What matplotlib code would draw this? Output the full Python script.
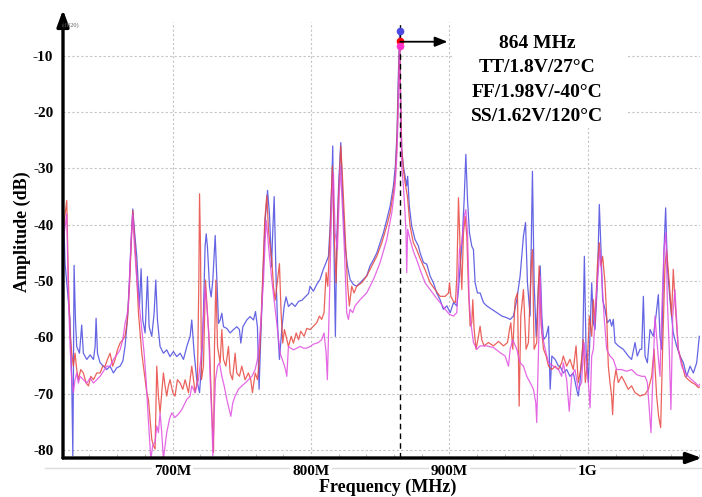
import numpy as np
import matplotlib.pyplot as plt
from matplotlib.lines import Line2D
from matplotlib.patches import Rectangle

plt.rcParams['font.family'] = ['Liberation Serif', 'DejaVu Serif']
plt.rcParams['axes.unicode_minus'] = False

# --- data (MHz, dB) ---
blue_f = [621.5, 622.4, 624.1, 626.0, 627.2, 628.0, 628.4, 628.9, 629.9, 630.8,
          632.8, 634.4, 635.6, 638.1, 640.5, 642.9, 644.1, 644.8, 645.8, 647.7,
          650.1, 652.5, 654.9, 657.3, 659.7, 662.1, 664.1, 665.7, 667.4, 668.9,
          670.3, 671.3, 672.5, 674.2, 676.1, 677.3, 678.5, 680.2, 681.9, 683.1,
          685.0, 686.7, 687.9, 689.1, 691.0, 693.4, 695.8, 698.2, 700.6, 703.0,
          705.5, 707.9, 710.3, 712.7, 713.9, 715.6, 717.5, 719.5, 720.9, 722.3,
          723.5, 724.3, 725.2, 726.7, 727.9, 729.1, 730.8, 732.0, 733.2, 734.4,
          735.6, 736.8, 739.2, 741.6, 744.0, 746.4, 748.3, 749.3, 750.8, 753.6,
          756.0, 758.5, 759.9, 761.3, 762.5, 763.5, 765.2, 766.9, 768.6, 770.0,
          771.5, 772.4, 773.4, 774.8, 776.0, 777.2, 778.9, 780.6, 782.0, 783.7,
          786.1, 788.5, 791.0, 793.4, 795.8, 798.2, 799.3, 801.7, 804.1, 806.5,
          808.9, 810.9, 812.6, 813.8, 815.0, 815.7, 816.4, 817.6, 818.6, 820.0,
          821.5, 822.9, 824.6, 826.3, 828.2, 830.6, 833.0, 835.4, 837.8, 840.2,
          842.6, 845.1, 847.5, 849.9, 852.3, 854.7, 857.1, 859.5, 860.9, 862.1,
          862.9, 864.0, 864.6, 865.5, 866.7, 867.9, 869.1, 869.8, 871.0, 872.7,
          875.1, 877.6, 878.8, 881.2, 883.6, 886.0, 888.4, 890.8, 893.2, 895.6,
          898.1, 900.5, 902.9, 905.3, 906.5, 907.7, 909.1, 910.6, 911.8, 913.0,
          914.4, 916.1, 917.3, 918.5, 920.2, 922.1, 924.5, 926.9, 930.6, 934.2,
          937.8, 941.4, 943.8, 946.2, 948.6, 951.0, 953.4, 954.9, 956.3, 958.2,
          959.9, 961.1, 962.6, 964.3, 965.5, 966.7, 967.9, 969.8, 971.5, 972.7,
          973.9, 976.3, 978.7, 979.8, 982.2, 984.6, 987.0, 989.4, 991.8, 993.0,
          994.2, 996.2, 997.4, 998.6, 1000.3, 1001.5, 1002.7, 1003.9, 1005.1, 1006.8,
          1008.2, 1009.4, 1010.6, 1012.3, 1014.0, 1015.9, 1017.1, 1018.3, 1019.5, 1021.9,
          1025.5, 1029.1, 1031.5, 1034.0, 1035.6, 1037.6, 1038.8, 1040.0, 1041.2, 1042.9,
          1044.8, 1047.2, 1049.1, 1050.8, 1052.0, 1053.2, 1054.9, 1056.1, 1057.3, 1059.2,
          1061.6, 1064.0, 1066.5, 1068.9, 1071.3, 1073.7, 1076.1, 1078.5, 1080.4]
blue_a = [-40.0, -46.9, -51.6, -56.9, -67.5, -81.0, -67.5, -47.2, -56.9, -61.6,
          -62.8, -57.8, -62.8, -63.9, -63.1, -63.9, -61.6, -56.6, -62.8, -64.5,
          -65.1, -65.7, -65.1, -66.3, -65.4, -65.1, -64.2, -61.6, -56.9, -49.8,
          -41.6, -37.2, -41.0, -45.7, -54.5, -47.8, -56.9, -59.2, -49.2, -58.1,
          -59.8, -55.7, -49.8, -56.9, -61.6, -62.8, -62.2, -63.4, -62.5, -63.4,
          -62.8, -63.9, -61.6, -59.8, -56.9, -62.8, -67.5, -69.8, -65.1, -55.7,
          -43.9, -41.6, -43.9, -51.0, -52.8, -49.8, -41.9, -49.8, -57.5, -56.9,
          -55.7, -58.1, -58.4, -59.2, -58.6, -58.1, -58.6, -61.0, -58.1, -56.9,
          -56.3, -56.9, -55.4, -58.1, -69.2, -61.6, -49.8, -39.2, -33.9, -38.1,
          -47.5, -41.0, -35.0, -49.8, -58.6, -63.9, -58.6, -54.5, -52.8, -54.5,
          -53.9, -54.5, -53.6, -53.4, -52.8, -52.2, -50.9, -51.8, -50.6, -49.7,
          -47.9, -46.7, -45.6, -40.2, -32.5, -26.0, -41.4, -59.8, -42.6, -32.5,
          -25.4, -35.5, -43.8, -47.3, -49.7, -50.6, -50.9, -50.3, -49.7, -49.1,
          -47.3, -46.2, -45.0, -43.2, -41.4, -39.1, -36.7, -33.1, -29.6, -23.7,
          -14.8, -5.6, -16.0, -26.6, -29.6, -31.4, -33.1, -31.4, -36.7, -40.2,
          -42.6, -43.8, -45.0, -46.7, -47.0, -49.1, -50.3, -52.1, -53.3, -55.0,
          -54.4, -55.6, -53.8, -54.4, -51.5, -47.3, -43.2, -35.5, -27.5, -35.5,
          -41.4, -43.8, -44.4, -50.3, -52.1, -52.1, -53.8, -54.4, -55.0, -55.6,
          -56.2, -56.5, -56.8, -56.2, -53.3, -49.1, -42.0, -39.6, -50.3, -56.2,
          -30.5, -50.3, -59.8, -50.3, -47.3, -56.2, -60.4, -59.8, -58.0, -69.2,
          -63.3, -63.9, -65.1, -65.1, -66.3, -65.7, -66.9, -66.3, -69.2, -70.4,
          -68.0, -62.1, -45.6, -62.1, -68.0, -59.2, -50.3, -57.4, -58.6, -50.3,
          -36.4, -44.4, -53.3, -55.0, -57.4, -56.8, -58.0, -56.8, -60.9, -61.5,
          -62.1, -63.3, -63.9, -60.9, -63.3, -62.1, -62.1, -52.7, -63.3, -64.5,
          -58.6, -59.8, -56.2, -52.4, -59.8, -62.1, -44.4, -37.0, -47.3, -53.3,
          -59.2, -61.5, -63.3, -64.5, -66.9, -65.1, -66.3, -64.5, -59.8]

red_f = [621.5, 623.6, 624.8, 626.0, 627.2, 628.4, 629.6, 630.8, 632.0, 633.7,
         635.6, 637.6, 639.3, 641.0, 642.9, 645.3, 647.7, 649.6, 651.3, 653.0,
         654.9, 656.8, 658.5, 660.2, 662.1, 664.1, 665.7, 667.4, 668.9, 670.3,
         671.3, 672.5, 673.7, 675.4, 676.6, 677.8, 679.0, 680.2, 681.4, 682.6,
         683.8, 685.0, 686.2, 687.4, 688.6, 689.8, 691.0, 692.2, 693.4, 694.6,
         695.8, 697.0, 698.2, 700.2, 701.8, 703.5, 705.5, 707.4, 709.1, 711.5,
         713.9, 716.3, 718.0, 719.0, 719.5, 720.2, 720.9, 722.3, 723.8, 725.2,
         726.7, 728.4, 729.6, 730.3, 731.3, 732.5, 734.4, 735.6, 736.8, 738.5,
         740.4, 741.6, 743.3, 745.2, 746.4, 748.3, 750.0, 752.4, 754.8, 756.5,
         757.7, 759.7, 761.3, 762.5, 763.7, 765.2, 766.6, 768.1, 769.3, 770.5,
         771.7, 772.9, 774.1, 775.8, 777.2, 778.4, 779.6, 780.8, 782.0, 783.7,
         785.7, 787.3, 789.3, 791.0, 792.6, 795.0, 797.0, 799.4, 801.7, 804.1,
         806.1, 807.7, 809.4, 810.9, 812.1, 813.8, 815.4, 816.7, 818.1, 819.8,
         821.5, 822.9, 824.6, 826.3, 827.7, 829.4, 831.1, 833.0, 836.6, 840.2,
         843.9, 847.5, 851.1, 854.7, 857.1, 859.5, 860.9, 862.1, 862.9, 864.0,
         864.6, 865.5, 866.7, 867.9, 869.6, 871.5, 873.9, 876.3, 878.8, 882.4,
         886.0, 889.6, 893.2, 896.9, 899.3, 900.0, 901.0, 902.9, 904.3, 905.3,
         906.5, 907.7, 908.9, 910.1, 911.3, 912.5, 913.7, 914.9, 916.1, 916.8,
         917.8, 919.2, 920.9, 922.1, 923.3, 925.0, 928.1, 931.8, 935.4, 939.0,
         941.9, 943.3, 944.3, 945.7, 947.4, 949.1, 950.3, 951.5, 953.4, 955.3,
         957.0, 959.0, 959.9, 961.1, 963.0, 964.7, 966.2, 967.9, 969.8, 971.5,
         973.9, 976.3, 978.7, 981.0, 982.2, 984.6, 987.0, 989.4, 991.4, 993.0,
         994.7, 996.6, 998.1, 999.5, 1001.0, 1002.7, 1003.9, 1005.1, 1006.8, 1008.2,
         1009.4, 1010.6, 1012.3, 1013.5, 1014.7, 1015.9, 1017.1, 1017.8, 1018.8, 1020.2,
         1021.9, 1024.3, 1026.7, 1029.1, 1031.5, 1034.0, 1037.6, 1041.2, 1043.6, 1046.0,
         1047.7, 1049.6, 1051.0, 1052.5, 1053.9, 1055.6, 1056.8, 1058.7, 1060.4, 1061.6,
         1062.8, 1065.2, 1067.7, 1070.1, 1072.5, 1074.9, 1077.3, 1079.7, 1082.1]
red_a = [-40.0, -35.7, -49.8, -59.2, -62.8, -65.1, -62.8, -65.7, -67.5, -65.7,
         -66.3, -68.1, -68.6, -66.9, -67.5, -66.3, -66.3, -65.1, -65.1, -63.9,
         -62.8, -65.1, -63.9, -62.2, -61.0, -60.4, -59.8, -56.9, -51.0, -42.8,
         -37.5, -42.2, -46.9, -55.7, -59.2, -62.8, -65.1, -67.5, -69.8, -71.0,
         -74.5, -78.1, -79.2, -79.8, -65.1, -70.4, -73.4, -69.8, -66.3, -68.6,
         -70.4, -68.6, -67.5, -69.8, -70.4, -67.5, -68.1, -69.2, -67.5, -69.8,
         -65.1, -69.8, -67.5, -49.8, -34.5, -43.9, -67.5, -65.1, -49.8, -55.7,
         -61.6, -73.4, -80.4, -61.6, -49.8, -61.6, -64.5, -58.6, -63.9, -65.1,
         -61.6, -66.3, -67.5, -62.8, -66.3, -66.9, -65.1, -67.5, -66.3, -67.5,
         -69.8, -66.3, -67.5, -64.5, -58.6, -48.6, -39.2, -34.8, -41.0, -43.9,
         -46.3, -51.0, -53.4, -49.8, -46.9, -55.7, -61.0, -58.6, -59.8, -61.6,
         -59.8, -61.0, -59.2, -60.4, -58.9, -59.8, -58.4, -58.6, -58.0, -57.4,
         -56.2, -56.8, -55.6, -48.5, -50.9, -41.4, -29.6, -41.4, -50.3, -35.5,
         -26.0, -32.5, -41.4, -50.3, -54.4, -50.9, -52.1, -50.9, -50.3, -49.1,
         -47.3, -45.6, -43.2, -40.2, -37.9, -34.3, -31.4, -24.9, -17.8, -7.4,
         -16.0, -26.6, -30.2, -32.5, -34.9, -40.2, -43.2, -44.4, -46.0, -48.0,
         -50.3, -51.5, -52.7, -52.7, -52.1, -50.3, -52.7, -53.6, -53.8, -49.1,
         -35.2, -44.4, -51.5, -41.4, -38.5, -42.0, -51.5, -58.0, -57.4, -53.3,
         -58.6, -62.1, -59.8, -58.0, -60.4, -61.5, -60.9, -61.5, -60.7, -61.5,
         -60.9, -58.6, -57.4, -62.1, -53.3, -52.1, -72.2, -56.2, -51.5, -62.1,
         -60.9, -47.3, -44.4, -62.1, -60.9, -47.3, -58.0, -62.1, -63.3, -65.1,
         -65.7, -65.1, -65.7, -64.5, -63.3, -65.1, -63.9, -65.7, -61.5, -68.0,
         -65.7, -60.4, -68.0, -64.5, -56.2, -59.8, -53.3, -57.4, -47.3, -43.2,
         -47.3, -45.6, -50.3, -56.2, -65.1, -68.0, -70.4, -73.7, -68.0, -65.7,
         -68.0, -66.9, -68.0, -69.2, -68.6, -69.8, -70.4, -70.1, -69.2, -66.9,
         -62.1, -70.4, -74.0, -76.0, -62.1, -47.3, -44.4, -50.3, -56.2, -47.9,
         -53.3, -62.1, -64.5, -66.9, -67.5, -68.0, -68.3, -68.9, -68.6]

mag_f = [621.5, 623.6, 624.8, 626.0, 627.2, 628.4, 629.6, 630.8, 632.0, 633.2,
         635.6, 638.1, 640.5, 642.9, 645.3, 647.7, 650.1, 652.5, 654.9, 657.3,
         659.7, 662.1, 664.1, 665.7, 666.9, 668.1, 669.3, 670.5, 671.3, 672.5,
         674.2, 676.1, 677.8, 679.5, 680.9, 682.1, 683.3, 684.3, 685.7, 687.4,
         688.6, 689.8, 691.0, 692.2, 693.4, 694.6, 695.8, 697.8, 699.4, 701.8,
         704.2, 706.7, 710.3, 712.7, 713.9, 716.3, 718.7, 720.4, 721.4, 722.8,
         723.5, 724.8, 726.0, 727.2, 728.4, 729.1, 730.1, 731.0, 732.5, 733.9,
         735.6, 737.3, 739.2, 740.9, 742.1, 743.5, 745.2, 747.6, 750.0, 752.4,
         754.8, 757.3, 759.7, 761.3, 762.8, 764.2, 765.7, 766.9, 767.6, 768.6,
         769.8, 771.7, 773.4, 775.3, 777.7, 780.1, 781.6, 782.5, 783.7, 785.4,
         787.3, 789.7, 792.2, 794.6, 797.0, 799.4, 801.7, 805.3, 807.7, 809.4,
         810.9, 811.8, 813.3, 815.0, 816.2, 817.4, 819.1, 820.3, 821.2, 822.4,
         824.1, 825.8, 827.0, 828.2, 830.1, 831.8, 835.4, 840.2, 845.1, 849.9,
         854.7, 858.3, 860.7, 862.1, 862.9, 864.0, 864.6, 865.5, 866.7, 867.9,
         868.6, 869.1, 869.8, 871.5, 873.9, 876.3, 878.8, 882.4, 886.0, 889.6,
         893.2, 896.9, 900.0, 902.9, 905.3, 907.2, 908.9, 910.6, 911.8, 913.0,
         914.2, 915.4, 917.3, 919.7, 922.1, 926.9, 931.8, 936.6, 940.2, 942.6,
         943.8, 945.7, 948.6, 951.0, 953.4, 955.8, 958.2, 960.6, 962.3, 963.0,
         964.3, 965.5, 966.7, 969.1, 971.5, 975.1, 978.7, 981.0, 982.2, 984.6,
         986.5, 988.2, 990.6, 993.0, 995.4, 997.1, 998.6, 1000.3, 1001.5, 1002.7,
         1003.9, 1005.8, 1007.5, 1008.7, 1009.9, 1011.6, 1013.5, 1015.9, 1018.3, 1020.7,
         1024.3, 1027.9, 1031.5, 1035.2, 1038.8, 1041.2, 1042.9, 1044.3, 1045.5, 1046.7,
         1048.4, 1050.3, 1052.0, 1053.2, 1054.9, 1056.3, 1057.3, 1058.7, 1059.9, 1061.2,
         1062.8, 1065.2, 1067.7, 1070.1, 1072.5, 1074.9, 1077.3, 1079.7, 1082.1]
mag_a = [-42.0, -38.1, -52.8, -61.6, -67.5, -69.8, -67.5, -66.3, -68.1, -66.9,
         -67.5, -68.1, -67.2, -68.1, -67.5, -66.9, -66.0, -65.1, -65.1, -63.9,
         -63.1, -62.2, -60.4, -57.5, -56.3, -54.5, -46.9, -41.0, -38.1, -43.9,
         -49.8, -54.5, -58.6, -62.8, -67.5, -72.8, -77.5, -81.6, -79.2, -78.6,
         -75.7, -76.9, -73.4, -76.9, -81.6, -79.2, -76.9, -74.5, -73.4, -74.2,
         -73.6, -72.8, -71.0, -70.4, -68.6, -69.8, -67.5, -63.9, -61.6, -54.5,
         -51.0, -54.5, -58.6, -67.5, -74.5, -81.0, -73.4, -67.5, -65.1, -64.5,
         -66.9, -68.6, -71.0, -72.8, -74.0, -71.6, -70.4, -69.2, -68.6, -68.1,
         -67.5, -66.9, -65.7, -63.9, -60.4, -55.7, -49.8, -42.8, -39.2, -41.6,
         -45.1, -49.8, -53.4, -57.5, -62.8, -64.5, -65.7, -66.9, -61.6, -61.9,
         -62.2, -61.9, -61.6, -61.9, -61.9, -61.6, -61.2, -60.9, -60.4, -59.2,
         -62.7, -67.5, -53.3, -35.5, -30.8, -41.4, -44.4, -35.5, -29.6, -35.5,
         -44.4, -55.6, -56.8, -55.0, -55.6, -54.4, -53.3, -52.1, -49.7, -46.7,
         -42.6, -37.9, -33.1, -27.2, -20.7, -8.2, -18.0, -29.6, -33.1, -37.9,
         -41.4, -48.5, -40.8, -42.6, -44.7, -46.2, -48.0, -50.3, -51.5, -52.7,
         -53.8, -55.0, -55.9, -56.2, -55.6, -44.4, -43.2, -38.5, -37.3, -41.4,
         -53.3, -57.4, -60.9, -62.1, -61.5, -61.5, -61.8, -62.7, -63.3, -65.1,
         -62.1, -60.4, -62.1, -64.5, -65.1, -66.9, -68.0, -69.2, -71.6, -75.1,
         -62.1, -49.1, -59.2, -62.1, -64.5, -65.1, -65.7, -66.9, -64.5, -67.5,
         -73.1, -66.9, -65.7, -69.2, -68.0, -60.9, -64.5, -68.0, -72.5, -63.3,
         -62.1, -53.3, -47.9, -44.4, -49.1, -56.2, -62.1, -63.3, -63.9, -65.7,
         -65.7, -66.0, -65.7, -66.6, -66.9, -66.9, -68.0, -72.8, -76.9, -68.0,
         -56.2, -62.1, -66.9, -56.2, -44.4, -41.4, -53.3, -62.1, -72.8, -56.2,
         -51.5, -62.1, -65.1, -66.3, -66.9, -67.5, -68.0, -68.6, -68.0]

peak_freq = 864
peak_amps = [-5.6, -7.4, -8.2]
legend_lines = ['864 MHz', 'TT/1.8V/27°C', 'FF/1.98V/-40°C', 'SS/1.62V/120°C']
yticks = [-10, -20, -30, -40, -50, -60, -70, -80]
xticks = [700, 800, 900, 1000]
xtick_labels = ['700M', '800M', '900M', '1G']

c_blue = '#4a4ae0'
c_red = '#e8473f'
c_mag = '#e04ee0'

W, H = 702, 497
fig = plt.figure(figsize=(W / 100, H / 100), dpi=100)
ax = fig.add_axes([63 / W, 1 - 458 / H, 637 / W, 436 / H])
ax.set_xlim(620.9, 1080.9)
ax.set_ylim(-81.4, -4.0)

ax.set_axisbelow(True)
ax.grid(True, color='#c4c4c4', linestyle=(0, (2, 2)), linewidth=0.8)
for s in ax.spines.values():
    s.set_visible(False)

ax.set_yticks(yticks)
ax.set_yticklabels([str(v) for v in yticks], fontsize=11, fontweight='bold')
ax.set_xticks(xticks)
ax.set_xticklabels(xtick_labels, fontsize=11, fontweight='bold')
ax.set_xticks(np.arange(640, 1081, 20), minor=True)
ax.tick_params(axis='y', length=0, pad=7)
ax.tick_params(axis='x', which='major', length=0, pad=5)
ax.tick_params(axis='x', which='minor', length=3, direction='in', color='#b0b0b0')
for lab in ax.get_xticklabels():
    lab.set_bbox(dict(facecolor='white', edgecolor='none', pad=1.5))

# white panel behind the annotation text
ax.add_patch(Rectangle((452 / W, 1 - 128 / H), 176 / W, 106 / H, transform=fig.transFigure,
                       facecolor='white', edgecolor='none', zorder=1))

ax.plot(blue_f, blue_a, color=c_blue, lw=0.9, alpha=0.85, zorder=2)
ax.plot(red_f, red_a, color=c_red, lw=0.9, alpha=0.85, zorder=2.1)
ax.plot(mag_f, mag_a, color=c_mag, lw=0.9, alpha=0.85, zorder=2.2)

ax.axvline(peak_freq, color='black', lw=1.0, linestyle=(0, (4, 3)), zorder=4)
for amp, c in zip(peak_amps, [c_blue, 'red', '#ff33cc']):
    ax.plot([peak_freq], [amp], 'o', color=c, markersize=4.5, zorder=5)

ax.annotate('', xy=(898.5, -7.5), xytext=(864.4, -7.5),
            arrowprops=dict(arrowstyle='-|>,head_length=0.5,head_width=0.2', color='black',
                            lw=1.3, shrinkA=0, shrinkB=0, mutation_scale=15), zorder=6)

for i, t in enumerate(legend_lines):
    fig.text(537 / W, 1 - (43 + 24.6 * i) / H, t, ha='center', va='center',
             fontsize=14, fontweight='bold')

# axis lines with arrow heads
ax.annotate('', xy=(0, 1.028), xytext=(0, 0), xycoords='axes fraction',
            arrowprops=dict(arrowstyle='-|>,head_length=0.55,head_width=0.2', color='black',
                            lw=2.4, shrinkA=0, shrinkB=0, mutation_scale=18),
            annotation_clip=False, zorder=7)
ax.annotate('', xy=(1.003, 0), xytext=(0, 0), xycoords='axes fraction',
            arrowprops=dict(arrowstyle='-|>,head_length=0.5,head_width=0.18', color='black',
                            lw=2.4, shrinkA=0, shrinkB=0, mutation_scale=18),
            annotation_clip=False, zorder=7)

fig.add_artist(Line2D([45 / W, 1.0], [1 - 468 / H, 1 - 468 / H], color='#dcdcdc', lw=1.0, zorder=0))
fig.text(62 / W, 1 - 25 / H, '(dB20)', fontsize=4.5, color='#555555', va='center', ha='left')

fig.text(22 / W, 1 - 232 / H, 'Amplitude (dB)', rotation=90, ha='center', va='center',
         fontsize=13, fontweight='bold')
fig.text(388 / W, 1 - 487 / H, 'Frequency (MHz)', ha='center', va='center',
         fontsize=13, fontweight='bold')

fig.savefig('out.png', dpi=100)
